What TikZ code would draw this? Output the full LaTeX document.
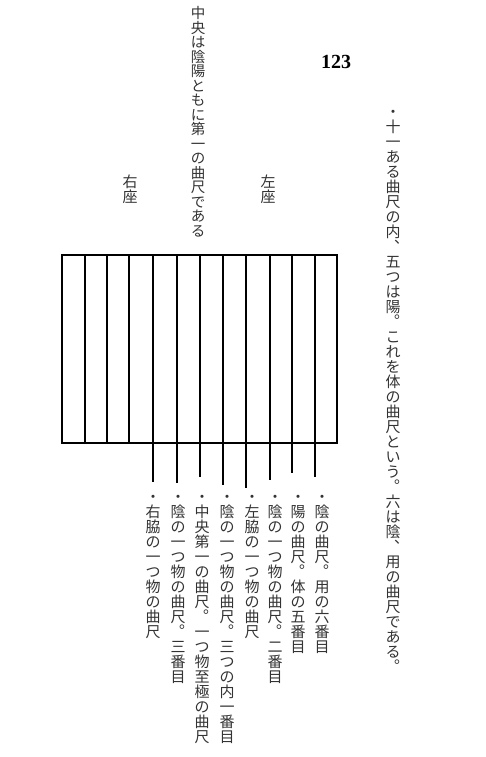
\documentclass[tikz,border=0pt]{standalone}
\usepackage{fontspec}
\setmainfont{Liberation Serif}
\newfontfamily\cjk{Noto Sans CJK JP}

% one column of upright characters, top to bottom
\def\tatecomma{、}
\def\tatestop{。}
\newcommand\tatecell{%
  \noindent\vrule height 0.88em depth 0.12em width 0pt%
  \ifx\tatech\tatecomma
    \makebox[1em][l]{\hspace{0.58em}\raisebox{0.62em}[0pt][0pt]{、}}%
  \else\ifx\tatech\tatestop
    \makebox[1em][l]{\hspace{0.58em}\raisebox{0.62em}[0pt][0pt]{。}}%
  \else
    \makebox[1em]{\tatech}%
  \fi\fi\par}
\makeatletter
\newcommand\tatecol[1]{\vbox{\hsize=1em\parindent=0pt\baselineskip=1em
  \lineskip=0pt\lineskiplimit=-100pt\@tfor\tatech:=#1\do{\tatecell}}}
\makeatother

\tikzset{
  frame/.style={line width=1.6pt},
  rib/.style={line width=1.1pt},
  tatetext/.style={anchor=north, inner sep=0pt, text=black!80,
    font=\cjk\fontsize{15}{15}\selectfont},
}

\begin{document}
\begin{tikzpicture}[x=1pt,y=-1pt]
        \useasboundingbox (0,0) rectangle (486,757);

        % the board
        \draw[frame] (62,255) rectangle (337,443);
        \draw[rib] (85,255) -- (85,443);
        \draw[rib] (107,255) -- (107,443);
        \draw[rib] (129,255) -- (129,443);

        \coordinate (e1) at (153,482);
        \coordinate (e2) at (177,483);
        \coordinate (e3) at (200,477);
        \coordinate (e4) at (223,485);
        \coordinate (e5) at (246,488);
        \coordinate (e6) at (270,480);
        \coordinate (e7) at (292,473);
        \coordinate (e8) at (315,477);

        \draw[rib] (153,255) -- (e1);
        \draw[rib] (177,255) -- (e2);
        \draw[rib] (200,255) -- (e3);
        \draw[rib] (223,255) -- (e4);
        \draw[rib] (246,255) -- (e5);
        \draw[rib] (270,255) -- (e6);
        \draw[rib] (292,255) -- (e7);
        \draw[rib] (315,255) -- (e8);

        % headings
        \node[tatetext, font=\cjk\fontsize{14.5}{14.5}\selectfont] (center) at (198,6)
        {\tatecol{中央は陰陽ともに第一の曲尺である}};
        \node[tatetext] (migi) at (130,174.5) {\tatecol{右座}};
        \node[tatetext] (hidari) at (268,174.5) {\tatecol{左座}};
        \node[font=\bfseries\fontsize{20}{20}\selectfont] (page) at (336,62) {123};
        \node[tatetext] (note) at (393,104.5)
        {\tatecol{・十一ある曲尺の内、五つは陽。これを体の曲尺という。六は陰、用の曲尺である。}};

        % labels
        \node[tatetext] (l1) at (153,489.5) {\tatecol{・右脇の一つ物の曲尺}};
        \node[tatetext] (l2) at (178,489.5) {\tatecol{・陰の一つ物の曲尺。三番目}};
        \node[tatetext] (l3) at (202,489.5) {\tatecol{・中央第一の曲尺。一つ物至極の曲尺}};
        \node[tatetext] (l4) at (227,489.5) {\tatecol{・陰の一つ物の曲尺。三つの内一番目}};
        \node[tatetext] (l5) at (252,489.5) {\tatecol{・左脇の一つ物の曲尺}};
        \node[tatetext] (l6) at (275,489.5) {\tatecol{・陰の一つ物の曲尺。二番目}};
        \node[tatetext] (l7) at (298,489.5) {\tatecol{・陽の曲尺。体の五番目}};
        \node[tatetext] (l8) at (322,489.5) {\tatecol{・陰の曲尺。用の六番目}};

      \end{tikzpicture}
\end{document}
